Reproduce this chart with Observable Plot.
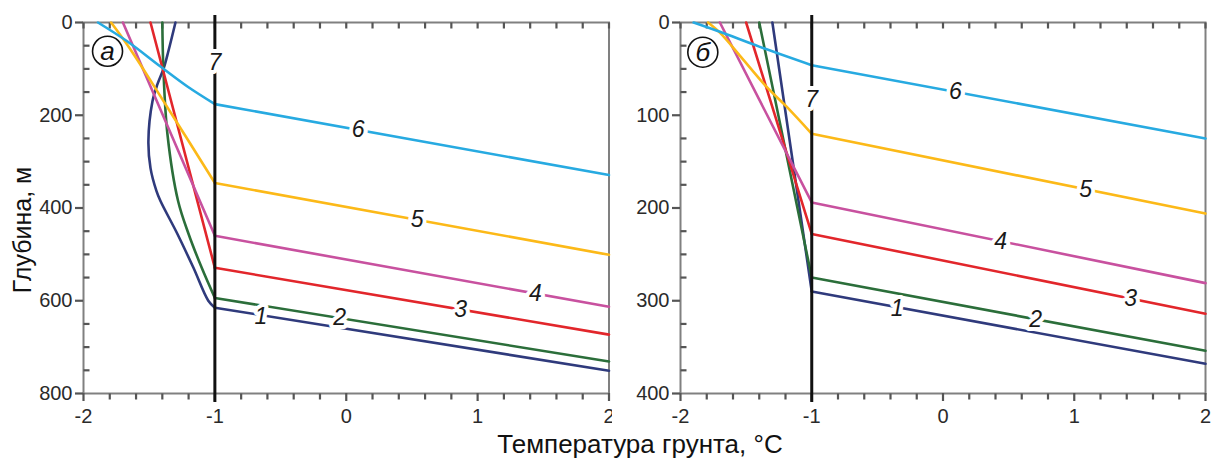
<!DOCTYPE html>
<html><head><meta charset="utf-8">
<script src="https://cdn.jsdelivr.net/npm/d3@7"></script>
<script src="https://cdn.jsdelivr.net/npm/@observablehq/plot@0.6"></script>
<style>
body{margin:0;background:#fff;font-family:"Liberation Sans",Arial,sans-serif;}
#wrap{position:relative;width:1211px;height:461px;overflow:hidden;}
#row{display:flex;}
#xtitle{position:absolute;left:640px;top:425px;transform:translateX(-50%);font-size:26px;line-height:38px;color:#111;white-space:nowrap;}
</style></head><body>
<div id="wrap"><div id="row"></div><div id="xtitle">Температура грунта, °C</div></div>
<script>
// ---- data: [temperature °C, depth m] ----
const curveNames = ["1", "2", "3", "4", "5", "6"];
const curveColors = ["#2f3a7c", "#2b6e3a", "#e2262b", "#c8519f", "#fcb918", "#27aae1"];

// panel а
const a1 = [[-1.30,0],[-1.354,62],[-1.39,99],[-1.437,133],[-1.475,170],[-1.506,256],[-1.49,314],[-1.445,363],[-1.414,385],[-1.285,456],[-1.163,529],[-1.05,600],[-1.0,615],[2,751]];
const a2 = [[-1.40,0],[-1.392,99],[-1.361,241],[-1.28,385],[-1.20,456],[-1.10,529],[-1.0,594],[2,731]];
const a3 = [[-1.49,0],[-1.0,529],[2,673]];
const a4 = [[-1.70,0],[-1.0,460],[2,613]];
const a5 = [[-1.79,0],[-1.65,55],[-1.39,170],[-1.0,346],[2,501]];
const a6 = [[-1.89,0],[-1.665,41],[-1.414,95],[-1.209,138],[-1.0,176],[2,329]];
const aLabelT = [-0.65, -0.05, 0.87, 1.44, 0.54, 0.09];
const aLabelD = [634, 637, 619, 584, 426, 232];
const a7Depth = 86;

// panel б
const b1 = [[-1.30,0],[-1.0,290],[2,368]];
const b2 = [[-1.40,0],[-1.0,275],[2,354]];
const b3 = [[-1.50,0],[-1.0,228],[2,314]];
const b4 = [[-1.70,0],[-1.0,194],[2,281]];
const b5 = [[-1.79,0],[-1.70,11],[-1.54,37],[-1.34,70],[-1.19,91],[-1.0,120],[2,206]];
const b6 = [[-1.90,0],[-1.70,10],[-1.40,26],[-1.0,46],[2,125]];
const bLabelT = [-0.35, 0.705, 1.43, 0.44, 1.086, 0.095];
const bLabelD = [309, 320, 298, 236, 180, 75];
const b7Depth = 83;

const line7T = -1;
const xMajor = [-2, -1, 0, 1, 2];
const xMinor = [-1.8, -1.6, -1.4, -1.2, -0.8, -0.6, -0.4, -0.2, 0.2, 0.4, 0.6, 0.8, 1.2, 1.4, 1.6, 1.8];
const yMajorA = [0, 200, 400, 600, 800];
const yMinorA = [50, 100, 150, 250, 300, 350, 450, 500, 550, 650, 700, 750];
const yMajorB = [0, 100, 200, 300, 400];
const yMinorB = [25, 50, 75, 125, 150, 175, 225, 250, 275, 325, 350, 375];
const panelLetterA = "а", panelLetterB = "б";

const H = 425, MT = 22, MB = 32;
const FH = H - MT - MB;
const TICK = 6; // px

function panel({width, marginLeft, marginRight, yMax, yMajor, yMinor, curves, labT, labD, d7, letter, letterT, letterD, ylabel}) {
  const FW = width - marginLeft - marginRight;
  const ty = TICK * yMax / FH;   // tick length in depth units
  const tx = TICK * 4 / FW;      // tick length in temperature units
  const labels = curveNames.map((n, i) => ({n, x: labT[i], y: labD[i]}));
  const tickStyle = {stroke: "#555", strokeWidth: 2.2};
  const marks = [
    Plot.frame({stroke: "#808080", strokeWidth: 2}),
    // minor ticks (bottom outward, top inward, left inward)
    Plot.link(xMinor, {x1: d => d, x2: d => d, y1: () => yMax, y2: () => yMax + ty, ...tickStyle}),
    Plot.link(xMinor.concat(xMajor), {x1: d => d, x2: d => d, y1: () => 0, y2: () => ty, ...tickStyle}),
    Plot.link(yMinor, {x1: () => -2, x2: () => -2 + tx, y1: d => d, y2: d => d, ...tickStyle}),
    // major axes
    Plot.axisX(xMajor, {anchor: "bottom", tickSize: 8, tickPadding: 7, fontSize: 20, color: "#2a2a2a", stroke: "#555", strokeWidth: 2.2, tickFormat: d => String(d), label: null}),
    Plot.axisY(yMajor, {anchor: "left", tickSize: 8, tickPadding: 3, fontSize: 20, color: "#2a2a2a", stroke: "#555", strokeWidth: 2.2, tickFormat: d => String(d), label: null}),
    // curves: smooth part above line 7, straight part beyond
    ...curves.map((c, i) => Plot.line(c.filter(d => d[0] <= line7T), {x: d => d[0], y: d => d[1], stroke: curveColors[i], strokeWidth: 2.6, curve: "catmull-rom"})),
    ...curves.map((c, i) => Plot.line(c.filter(d => d[0] >= line7T), {x: d => d[0], y: d => d[1], stroke: curveColors[i], strokeWidth: 2.6})),
    Plot.ruleX([line7T], {stroke: "#111", strokeWidth: 3, insetTop: -7, insetBottom: -9}),
    Plot.text(labels, {x: "x", y: "y", text: "n", fontSize: 23, fontStyle: "italic", fill: "white", stroke: "white", strokeWidth: 8}),
    Plot.text(labels, {x: "x", y: "y", text: "n", fontSize: 23, fontStyle: "italic", fill: "#1a1a1a"}),
    Plot.text([{x: line7T, y: d7}], {x: "x", y: "y", text: () => "7", fontSize: 23, fontStyle: "italic", fill: "white", stroke: "white", strokeWidth: 8}),
    Plot.text([{x: line7T, y: d7}], {x: "x", y: "y", text: () => "7", fontSize: 23, fontStyle: "italic", fill: "#1a1a1a"}),
    Plot.dot([{x: letterT, y: letterD}], {x: "x", y: "y", r: 15, stroke: "#111", strokeWidth: 1.6, fill: "white"}),
    Plot.text([{x: letterT, y: letterD}], {x: "x", y: "y", text: () => letter, fontSize: 26, fontStyle: "italic", fill: "#111"})
  ];
  if (ylabel) marks.push(Plot.text([ylabel], {frameAnchor: "left", textAnchor: "middle", dx: -61, dy: 22, rotate: -90, fontSize: 25, fill: "#111"}));
  return Plot.plot({
    width, height: H,
    marginTop: MT, marginBottom: MB, marginLeft, marginRight,
    x: {domain: [-2, 2]},
    y: {domain: [0, yMax], reverse: true},
    style: {fontFamily: "'Liberation Sans', Arial, sans-serif", background: "white", overflow: "visible"},
    marks
  });
}

const row = document.getElementById("row");
row.append(panel({width: 612, marginLeft: 83, marginRight: 3.5, yMax: 800, yMajor: yMajorA, yMinor: yMinorA,
  curves: [a1, a2, a3, a4, a5, a6], labT: aLabelT, labD: aLabelD, d7: a7Depth,
  letter: panelLetterA, letterT: -1.817, letterD: 62, ylabel: "Глубина, м"}));
row.append(panel({width: 599, marginLeft: 68, marginRight: 6, yMax: 400, yMajor: yMajorB, yMinor: yMinorB,
  curves: [b1, b2, b3, b4, b5, b6], labT: bLabelT, labD: bLabelD, d7: b7Depth,
  letter: panelLetterB, letterT: -1.83, letterD: 32}));
</script>
</body></html>
